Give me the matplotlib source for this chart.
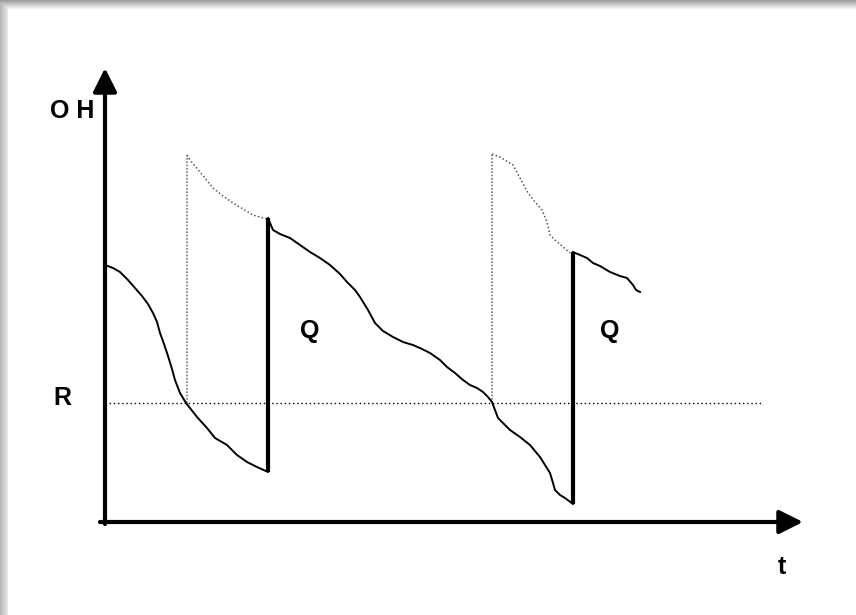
import numpy as np
import matplotlib
matplotlib.use("Agg")
import matplotlib.pyplot as plt

# (R, Q) inventory diagram: on-hand stock OH against time t
# first cycle, stock falling until the first order arrives
t1 = [0, 8, 15, 23, 30, 37, 43, 48, 52, 55, 59, 63, 67, 70, 75, 81, 92, 102, 110, 122, 132, 142, 152, 163]
oh1 = [257, 254, 250, 242, 234, 226, 218, 209, 200, 189, 178, 166, 153, 142, 129, 119, 105, 94, 84, 77, 67, 60, 55, 50]

# second cycle, after receiving Q
t2 = [163, 168, 175, 185, 195, 205, 215, 225, 235, 242, 250, 255, 263, 270, 278, 288, 298, 308, 317, 325,
      335, 342, 350, 358, 365, 372, 378, 383, 387, 390, 393, 398, 405, 415, 425, 435, 440, 445, 448, 450,
      455, 460, 464, 468]
oh2 = [304, 292, 288, 284, 277, 270, 264, 257, 248, 240, 232, 225, 212, 199, 191, 185, 180, 177, 173, 169,
       162, 155, 149, 142, 137, 134, 130, 125, 120, 112, 104, 99, 92, 85, 77, 65, 57, 49, 39, 32,
       27, 24, 21, 18]

# third cycle (partial)
t3 = [468, 475, 482, 488, 495, 505, 515, 522, 528, 531, 535]
oh3 = [270, 267, 264, 259, 256, 250, 246, 244, 237, 232, 230]

# inventory position between ordering and receipt (dotted)
tp1 = [82, 85, 95, 108, 118, 128, 138, 148, 162]
ohp1 = [367, 362, 350, 334, 326, 319, 313, 307, 303]
tp2 = [387, 395, 408, 415, 423, 430, 437, 442, 445, 450, 457, 465]
ohp2 = [368, 365, 357, 344, 329, 320, 312, 300, 287, 282, 276, 269]

R = 119
order_t = [82, 387]
order_top = [367, 368]
receive_t = [163, 468]
receive_low = [50, 18]
receive_high = [304, 270]

fig = plt.figure(figsize=(8.56, 6.15), dpi=100)

# soft grey shadow along the top and left edge
bg = np.full((615, 856), 1.0)
top = np.linspace(0.62, 0.95, 9)
bg[:9, :] = np.minimum(bg[:9, :], top[:, None])
left = np.linspace(0.72, 0.9, 8)
bg[:, :8] = np.minimum(bg[:, :8], left[None, :])
fig.figimage(bg, cmap="gray", vmin=0, vmax=1, origin="upper", zorder=0)

ax = fig.add_axes([0, 0, 1, 1])
ax.set_zorder(2)
ax.patch.set_alpha(0)
ax.set_xlim(-105, 751)
ax.set_ylim(-93, 522)
ax.axis("off")

# axes with arrows
head = "-|>,head_length=1.0,head_width=0.5"
ax.annotate("", xy=(698, 0), xytext=(-5, 0),
            arrowprops=dict(arrowstyle=head, lw=3, color="black", mutation_scale=14.4, shrinkA=0, shrinkB=0))
ax.annotate("", xy=(0, 454), xytext=(0, -2),
            arrowprops=dict(arrowstyle=head, lw=3, color="black", mutation_scale=14.4, shrinkA=0, shrinkB=0))

# reorder point line
ax.plot([0, 657], [R, R], color="black", lw=1, ls=(0, (1, 2)))

# order placed -> dotted vertical up to inventory position
for t, top_v in zip(order_t, order_top):
    ax.plot([t, t], [R, top_v], color="#777777", lw=1.2, ls=(0, (1, 1)))

ax.plot(tp1, ohp1, color="#555555", lw=1.1, ls=(0, (1, 1.5)))
ax.plot(tp2, ohp2, color="#555555", lw=1.1, ls=(0, (1, 1.5)))

# receipt of Q
for t, lo, hi in zip(receive_t, receive_low, receive_high):
    ax.plot([t, t], [lo, hi], color="black", lw=3, solid_capstyle="butt")

for t, oh in [(t1, oh1), (t2, oh2), (t3, oh3)]:
    ax.plot(t, oh, color="black", lw=1.4, solid_joinstyle="round")

font = dict(family="Liberation Sans", fontweight="bold", fontsize=18, ha="center", va="center")
ax.text(-33, 411, "O H", **font)
ax.text(-43, 124, "R", **font)
ax.text(205, 191, "Q", **font)
ax.text(505, 191, "Q", **font)
ax.text(677, -45, "t", **font)

fig.savefig("out.png", dpi=100)
